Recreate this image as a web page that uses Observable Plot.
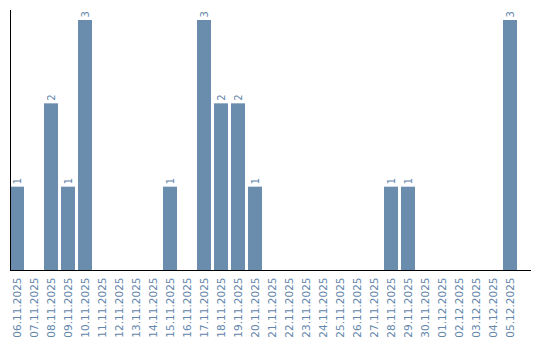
<!DOCTYPE html>
<html>
<head>
<meta charset="utf-8">
<script src="https://cdn.jsdelivr.net/npm/d3@7"></script>
<script src="https://cdn.jsdelivr.net/npm/@observablehq/plot@0.6"></script>
<style>
  html, body { margin: 0; padding: 0; background: #fff; }
  #chart svg { display: block; }
</style>
</head>
<body>
<div id="chart"></div>
<script>
const dates = ["06.11.2025","07.11.2025","08.11.2025","09.11.2025","10.11.2025","11.11.2025","12.11.2025","13.11.2025","14.11.2025","15.11.2025","16.11.2025","17.11.2025","18.11.2025","19.11.2025","20.11.2025","21.11.2025","22.11.2025","23.11.2025","24.11.2025","25.11.2025","26.11.2025","27.11.2025","28.11.2025","29.11.2025","30.11.2025","01.12.2025","02.12.2025","03.12.2025","04.12.2025","05.12.2025"];
const counts = [1,0,2,1,3,0,0,0,0,1,0,3,2,2,1,0,0,0,0,0,0,0,1,1,0,0,0,0,0,3];

const data = dates.map((d, i) => ({date: d, count: counts[i]}));
const barColor = "#6a8cad";
const textColor = "#6386ab";

const chart = Plot.plot({
  width: 540,
  height: 340,
  marginLeft: 10,
  marginRight: 10,
  marginTop: 10,
  marginBottom: 70,
  style: {fontFamily: "DejaVu Sans", fontSize: "10px", background: "#fff"},
  x: {domain: dates, range: [8, 518], paddingInner: 0.18, paddingOuter: 0, label: null},
  y: {domain: [0, 3], range: [270, 20], axis: null},
  marks: [
    Plot.barY(data, {x: "date", y: "count", fill: barColor}),
    Plot.text(data.filter(d => d.count > 0), {
      x: "date", y: "count", text: d => String(d.count),
      rotate: -90, textAnchor: "start", dy: -3, fill: textColor, fontSize: 10
    }),
    Plot.axisX({tickRotate: -90, tickSize: 0, tickPadding: 7, color: textColor, fill: textColor, fontSize: 10.5, label: null}),
    Plot.frame({anchor: "left", stroke: "#000"}),
    Plot.frame({anchor: "bottom", stroke: "#000"})
  ]
});
document.getElementById("chart").appendChild(chart);
</script>
</body>
</html>
